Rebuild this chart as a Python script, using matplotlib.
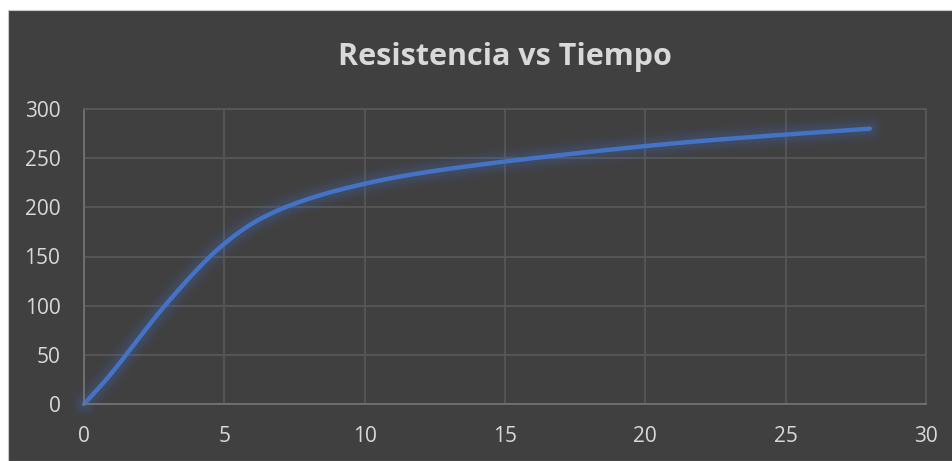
import numpy as np
import matplotlib
matplotlib.use('Agg')
import matplotlib.pyplot as plt
from matplotlib.patches import Rectangle

# datos (dias, resistencia)
tiempo = [0, 1, 3, 5, 7, 10, 14, 21, 28]
resistencia = [0, 32, 104, 163, 198, 224, 243, 265, 280]

x_ticks = [0, 5, 10, 15, 20, 25, 30]
y_ticks = [0, 50, 100, 150, 200, 250, 300]

BG = '#404040'
GRID = '#595959'
AXIS = '#767676'
TXT = '#d9d9d9'
LINE = '#4472c4'

plt.rcParams['font.family'] = ['Open Sans', 'DejaVu Sans']


def smooth(xs, ys, n=60):
    """curva suavizada tipo Excel (bezier tipo catmull-rom)"""
    p = np.column_stack([xs, ys]).astype(float)
    pts = np.vstack([p[0], p, p[-1]])
    out = []
    t = np.linspace(0, 1, n)[:, None]
    for i in range(1, len(pts) - 2):
        p0, p1, p2, p3 = pts[i - 1], pts[i], pts[i + 1], pts[i + 2]
        c1 = p1 + (p2 - p0) / 6
        c2 = p2 - (p3 - p1) / 6
        seg = ((1 - t) ** 3) * p1 + 3 * ((1 - t) ** 2) * t * c1 + 3 * (1 - t) * t ** 2 * c2 + t ** 3 * p2
        out.append(seg if i == 1 else seg[1:])
    s = np.vstack(out)
    return s[:, 0], s[:, 1]


fig = plt.figure(figsize=(9.53, 4.61), dpi=100)
fig.patch.set_facecolor('white')
fig.patches.append(Rectangle((8 / 953, 0), 1 - 8 / 953, 1 - 10 / 461,
                             transform=fig.transFigure, facecolor=BG,
                             edgecolor='#c8c8c8', linewidth=0.8, zorder=-5))

ax = fig.add_axes([84 / 953, 1 - 404 / 461, (926 - 84) / 953, (404 - 109) / 461])
ax.set_facecolor(BG)
ax.set_xlim(0, 30)
ax.set_ylim(0, 300)
ax.set_xticks(x_ticks)
ax.set_yticks(y_ticks)
ax.grid(True, color=GRID, linewidth=1.2)
ax.set_axisbelow(True)
for side in ['top', 'right']:
    ax.spines[side].set_color(GRID)
    ax.spines[side].set_linewidth(1.2)
for side in ['left', 'bottom']:
    ax.spines[side].set_color(AXIS)
    ax.spines[side].set_linewidth(1.2)
ax.tick_params(length=0, colors=TXT, labelsize=15)
ax.tick_params(axis='y', pad=17)
ax.tick_params(axis='x', pad=16)

xs, ys = smooth(tiempo, resistencia)
# brillo alrededor de la linea
for lw, a in [(20, 0.04), (16, 0.05), (12, 0.07), (8, 0.1)]:
    ax.plot(xs, ys, color=LINE, linewidth=lw, alpha=a, solid_capstyle='round', clip_on=False)
ax.plot(xs, ys, color=LINE, linewidth=3.2, solid_capstyle='round', clip_on=False)

fig.text((84 + 926) / 2 / 953, 1 - 57 / 461, 'Resistencia vs Tiempo', ha='center', va='center',
         fontsize=22, fontweight='bold', color=TXT)

plt.savefig('out.png', dpi=100, facecolor=fig.get_facecolor())
